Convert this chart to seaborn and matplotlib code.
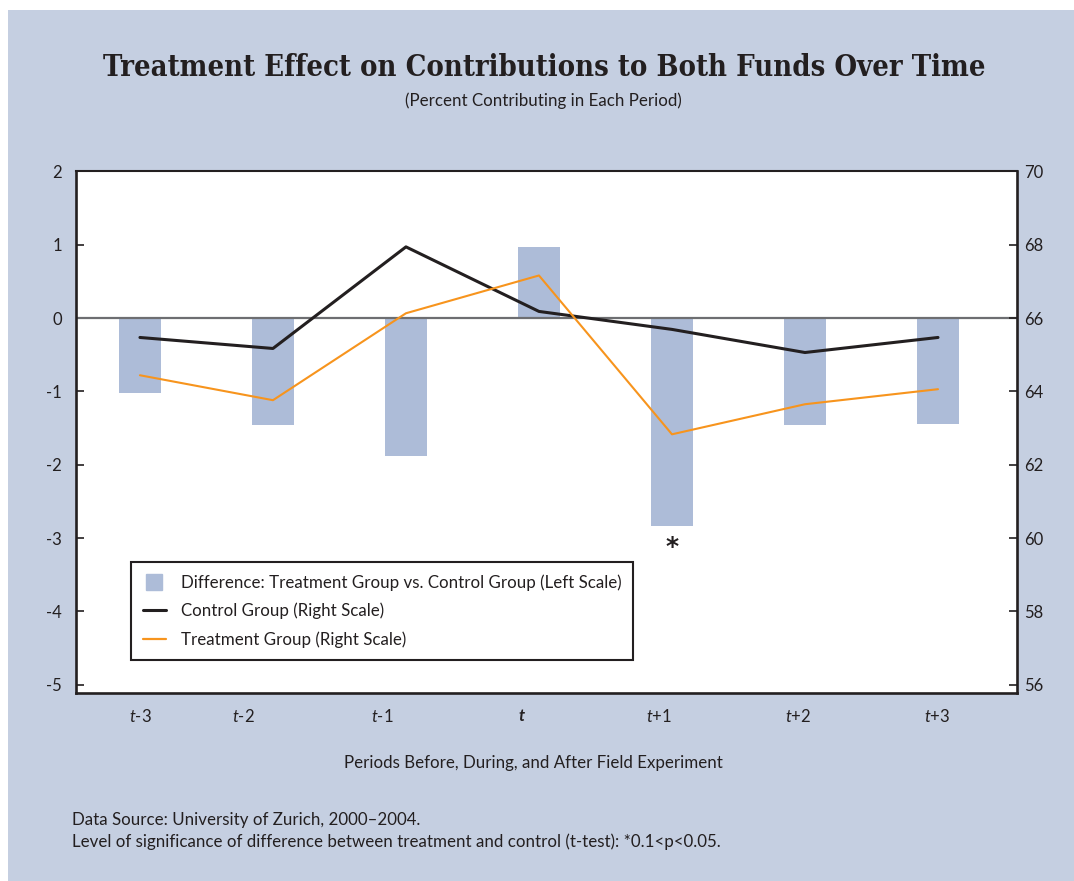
import numpy as np
import pandas as pd
import matplotlib
matplotlib.use('Agg')
import matplotlib.pyplot as plt
import seaborn as sns
from matplotlib.lines import Line2D
from matplotlib.patches import Rectangle
from matplotlib import font_manager as fm

# ---------------- data ----------------
periods = ['t-3', 't-2', 't-1', 't', 't+1', 't+2', 't+3']
difference = [-1.02, -1.46, -1.88, 0.97, -2.83, -1.46, -1.45]   # left scale
control = [65.47, 65.17, 67.94, 66.18, 65.69, 65.06, 65.47]      # right scale
treatment = [64.44, 63.76, 66.13, 67.16, 62.83, 63.65, 64.06]    # right scale
significance = ['', '', '', '', '*', '', '']
left_ticks = [2, 1, 0, -1, -2, -3, -4, -5]
right_ticks = [70, 68, 66, 64, 62, 60, 58, 56]

title = 'Treatment Effect on Contributions to Both Funds Over Time'
subtitle = '(Percent Contributing in Each Period)'
xlabel = 'Periods Before, During, and After Field Experiment'
legend_labels = ['Difference: Treatment Group vs. Control Group (Left Scale)',
                 'Control Group (Right Scale)',
                 'Treatment Group (Right Scale)']
notes = ['Data Source: University of Zurich, 2000\u20132004.',
         'Level of significance of difference between treatment and control (t-test): *0.1<p<0.05.']

# ---------------- layout / style ----------------
label_pos = [0.0, 0.78, 1.82, 2.87, 3.90, 4.95, 5.99]
BG = '#c5cfe1'
BAR = '#adbcd8'
DARK = '#231f20'
ORANGE = '#f7941d'
ZERO = '#6d6e71'
FS = 12.2

sns.set_theme(style='white')
BODY = 'Lato'
names = {f.name for f in fm.fontManager.ttflist}
if BODY not in names:
    BODY = 'DejaVu Sans'
plt.rcParams['font.family'] = [BODY, 'DejaVu Sans']
plt.rcParams['mathtext.fontset'] = 'custom'
plt.rcParams['mathtext.it'] = BODY + ':italic'
plt.rcParams['mathtext.rm'] = BODY
plt.rcParams['text.color'] = DARK
plt.rcParams['axes.unicode_minus'] = False

cond_serif = [f for f in fm.fontManager.ttflist
              if f.name == 'DejaVu Serif' and f.stretch == 'condensed' and f.weight in ('bold', 700)]
if cond_serif:
    title_kw = dict(family='DejaVu Serif', fontstretch='condensed', fontweight='bold', fontsize=20.9)
else:
    title_kw = dict(family='DejaVu Serif', fontweight='bold', fontsize=20.9)

W, H = 1074, 881
fig = plt.figure(figsize=(W / 100, H / 100), dpi=100)
fig.patch.set_facecolor('white')
fig.patches.append(Rectangle((8 / W, 0), 1 - 8 / W, 1 - 10 / H, transform=fig.transFigure,
                             facecolor=BG, edgecolor='none', zorder=-10))

ax = fig.add_axes([75.7 / W, 1 - 692.7 / H, (1017 - 75.7) / W, (692.7 - 171.3) / H])
ax.set_facecolor('white')

df = pd.DataFrame({'period': periods, 'difference': difference,
                   'control': control, 'treatment': treatment,
                   'pos': np.arange(len(periods))})

sns.barplot(data=df, x='period', y='difference', order=periods, color=BAR,
            saturation=1, width=0.32, linewidth=0, ax=ax, zorder=2)
ax.axhline(0, color=ZERO, lw=1.6, zorder=3)

ax2 = ax.twinx()
sns.lineplot(data=df, x='pos', y='control', color=DARK, lw=2.2, ax=ax2, zorder=4)
sns.lineplot(data=df, x='pos', y='treatment', color=ORANGE, lw=1.5, ax=ax2, zorder=5)

ax.set_xlim(-0.483, 6.594)
ax.set_ylim(-5.107, 2)
ax2.set_ylim(55.786, 70)
ax.set_yticks(left_ticks)
ax2.set_yticks(right_ticks)
ax.set_xlabel('')
ax.set_ylabel('')
ax2.set_ylabel('')

ax.set_xticks(label_pos)
disp = [('$\\mathit{t}$' + p[1:]) if len(p) > 1 else p for p in periods]
ax.set_xticklabels(disp)
for lab, p in zip(ax.get_xticklabels(), periods):
    if len(p) == 1:
        lab.set_fontstyle('italic')
        lab.set_fontweight('bold')
ax.tick_params(axis='x', length=0, pad=11, labelsize=12, labelcolor=DARK)
ax.tick_params(axis='y', direction='in', length=6, width=1.2, color=DARK, pad=10,
               labelsize=12, labelcolor=DARK, left=True)
ax2.tick_params(axis='y', direction='in', length=6, width=1.2, color=DARK, pad=5,
                labelsize=12, labelcolor=DARK, right=True)

for a in (ax, ax2):
    for s in a.spines.values():
        s.set_visible(False)
for side, lw in (('left', 1.9), ('right', 1.9), ('top', 1.5), ('bottom', 1.9)):
    ax2.spines[side].set_visible(True)
    ax2.spines[side].set_color(DARK)
    ax2.spines[side].set_linewidth(lw)

# significance markers
for i, s in enumerate(significance):
    if s:
        ax.annotate(s, xy=(i, min(difference[i], 0)), xytext=(0, -7),
                    textcoords='offset points', ha='center', va='top',
                    fontsize=18, fontweight='bold', family='DejaVu Sans', color=DARK)

handles = [Line2D([], [], marker='s', ls='none', markersize=11,
                  markerfacecolor=BAR, markeredgecolor=BAR),
           Line2D([], [], color=DARK, lw=2.2),
           Line2D([], [], color=ORANGE, lw=1.6)]
leg = ax2.legend(handles, legend_labels, loc='lower left',
                 bbox_to_anchor=(0.0587, 0.0627), borderaxespad=0, frameon=True,
                 fancybox=False, framealpha=1, edgecolor=DARK, fontsize=FS,
                 handlelength=1.35, handletextpad=0.9, labelspacing=0.72, borderpad=0.7)
leg.get_frame().set_linewidth(1.5)
for t in leg.get_texts():
    t.set_color(DARK)

fig.text(544 / W, 1 - 68 / H, title, ha='center', va='center', color=DARK, **title_kw)
fig.text(543 / W, 1 - 101 / H, subtitle, ha='center', va='center', fontsize=FS, color=DARK)
fig.text(533.5 / W, 1 - 763 / H, xlabel, ha='center', va='center', fontsize=FS, color=DARK)
fig.text(72 / W, 1 - 820 / H, notes[0], ha='left', va='center', fontsize=FS, color=DARK)
fig.text(72 / W, 1 - 842 / H, notes[1], ha='left', va='center', fontsize=FS, color=DARK)

fig.savefig('out.png', dpi=100, facecolor=fig.get_facecolor())
